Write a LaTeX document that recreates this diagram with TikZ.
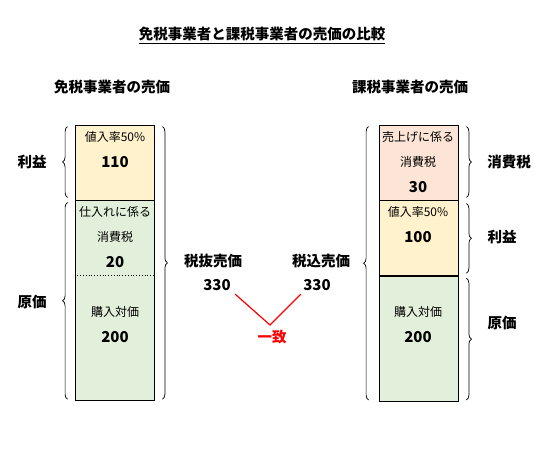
\documentclass[tikz,border=0pt]{standalone}
\usepackage{fontspec}
\setmainfont{Noto Sans CJK JP}
\usetikzlibrary{decorations.pathreplacing,calc}
\definecolor{profitfill}{HTML}{FFF2CC}
\definecolor{costfill}{HTML}{E2EFDA}
\definecolor{taxfill}{HTML}{FCE4D6}
\tikzset{
  seg/.style={draw, line width=0.8pt, rectangle, minimum width=79pt, inner sep=0pt},
  small/.style={font=\fontsize{12}{14}\selectfont},
  num/.style={font=\fontsize{15}{17}\selectfont\bfseries},
  lbl/.style={font=\fontsize{14.5}{16}\selectfont\bfseries},
  curly/.style={decorate, decoration={brace, amplitude=5pt}, line width=0.7pt},
}
\begin{document}
\begin{tikzpicture}[x=1pt, y=-1pt]
    \useasboundingbox (0,0) rectangle (534,451);

    % title
    \node[lbl, inner sep=0pt] (title) at (262,34) {免税事業者と課税事業者の売価の比較};
    \draw[line width=0.8pt] ($(title.south west)+(0,2)$) -- ($(title.south east)+(0,2)$);
    \node[lbl] (lhead) at (112,87) {免税事業者の売価};
    \node[lbl] (rhead) at (410,87) {課税事業者の売価};

    % left bar
    \node[seg, fill=profitfill, minimum height=75pt] (lprofit) at (114.5,162.5) {};
    \node[seg, fill=costfill, minimum height=200pt, anchor=north] (lcost) at (lprofit.south) {};
    \draw[dotted, line width=0.8pt] ($(lcost.north west)+(0,75)$) -- ($(lcost.north east)+(0,75)$);
    \node[small] (lrate) at (115,137) {値入率50\%};
    \node[num] (lprofitval) at (115,162) {110};
    \node[small] (lpurtax) at (115,212) {仕入れに係る};
    \node[small] (lpurtaxb) at (115,237) {消費税};
    \node[num] (lpurtaxval) at (115,262) {20};
    \node[small] (lbuy) at (115,312) {購入対価};
    \node[num] (lbuyval) at (115,337) {200};

    % right bar
    \node[seg, fill=taxfill, minimum height=75pt] (rtax) at (418.5,162.5) {};
    \node[seg, fill=profitfill, minimum height=75pt, anchor=north] (rprofit) at (rtax.south) {};
    \node[seg, fill=costfill, minimum height=125pt, anchor=north] (rcost) at (rprofit.south) {};
    \node[small] (rsaletax) at (418,137) {売上げに係る};
    \node[small] (rsaletaxb) at (418,162) {消費税};
    \node[num] (rsaletaxval) at (418,187) {30};
    \node[small] (rrate) at (418,212) {値入率50\%};
    \node[num] (rprofitval) at (418,237) {100};
    \node[small] (rbuy) at (418,312) {購入対価};
    \node[num] (rbuyval) at (418,337) {200};

    % braces
    \draw[curly] ($(lprofit.south west)+(-7,-3)$) -- ($(lprofit.north west)+(-7,2)$);
    \draw[curly] ($(lcost.south west)+(-7,-2)$) -- ($(lcost.north west)+(-7,2)$);
    \draw[curly] ($(lprofit.north east)+(8,2)$) -- ($(lcost.south east)+(8,-2)$);
    \draw[curly] ($(rcost.south west)+(-10,-2)$) -- ($(rtax.north west)+(-10,2)$);
    \draw[curly] ($(rtax.north east)+(8,2)$) -- ($(rtax.south east)+(8,-3)$);
    \draw[curly] ($(rprofit.north east)+(8,3)$) -- ($(rprofit.south east)+(8,-3)$);
    \draw[curly] ($(rcost.north east)+(8,2)$) -- ($(rcost.south east)+(8,-2)$);

    % labels
    \node[lbl] (lprofitlbl) at (32,162) {利益};
    \node[lbl] (lcostlbl) at (32,302) {原価};
    \node[lbl] (rtaxlbl) at (509,162) {消費税};
    \node[lbl] (rprofitlbl) at (502,237) {利益};
    \node[lbl] (rcostlbl) at (502,323) {原価};

    % prices
    \node[lbl] (lexlbl) at (213,261) {税抜売価};
    \node[num] (lexval) at (217,285) {330};
    \node[lbl] (rinlbl) at (321,261) {税込売価};
    \node[num] (rinval) at (317,285) {330};

    \coordinate (vtip) at (270,325);
    \draw[red, line width=1.2pt] ($(lexval.south east)+(1,0)$) -- (vtip) -- ($(rinval.south west)+(1,0)$);
    \node[lbl, text=red] (agree) at (272,337) {一致};
\end{tikzpicture}
\end{document}
